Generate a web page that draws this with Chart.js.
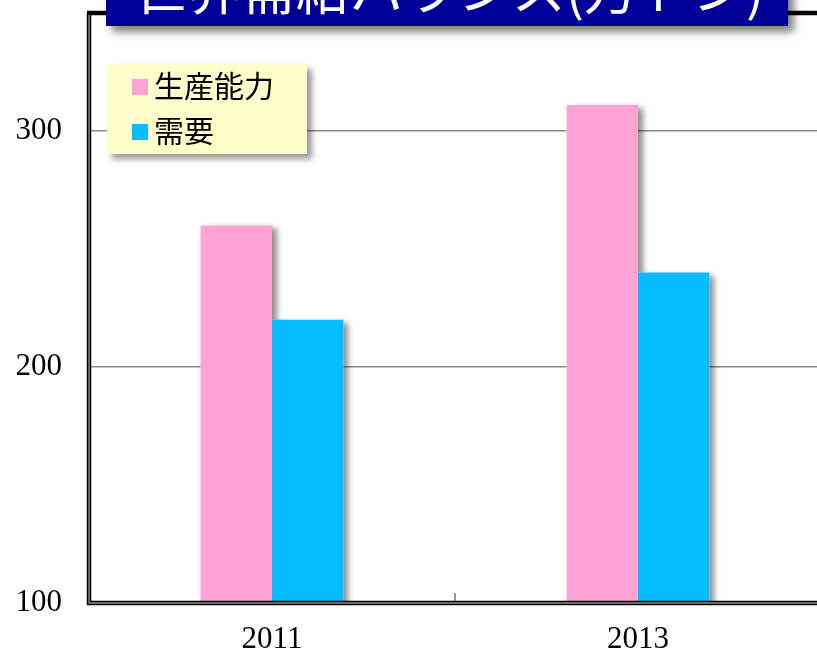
<!DOCTYPE html>
<html>
<head>
<meta charset="utf-8">
<script src="https://cdn.jsdelivr.net/npm/chart.js@4"></script>
<style>
html, body { margin: 0; padding: 0; width: 817px; height: 654px; overflow: hidden; background: #fff; }
#wrap { position: absolute; left: 0; top: 0; width: 830px; height: 654px; }
</style>
</head>
<body>
<div id="wrap"><canvas id="c" width="830" height="654"></canvas></div>
<script>
const titleText = '世界需給バランス(万トン)';
const categories = ['2011', '2013'];
const seriesNames = ['生産能力', '需要'];
const capacity = [260, 311];
const demand = [220, 240];
const yTicks = [100, 200, 300];
const yMin = 100;
const yMax = 350;

const pink = '#FFA3D7';
const blue = '#05BDFE';

// soft drop shadows drawn beneath all bars
const barShadow = {
  id: 'barShadow',
  beforeDatasetsDraw(chart) {
    const ctx = chart.ctx;
    const a = chart.chartArea;
    ctx.save();
    ctx.beginPath();
    ctx.rect(a.left, a.top, a.right - a.left, a.bottom - a.top);
    ctx.clip();
    ctx.shadowColor = 'rgba(0,0,0,0.45)';
    ctx.shadowOffsetX = 5;
    ctx.shadowOffsetY = 3;
    ctx.shadowBlur = 6;
    ctx.fillStyle = '#fff';
    chart.data.datasets.forEach((ds, i) => {
      chart.getDatasetMeta(i).data.forEach(el => {
        const p = el.getProps(['x', 'y', 'base', 'width'], true);
        const bottom = Math.min(p.base, a.bottom);
        ctx.fillRect(p.x - p.width / 2, p.y, p.width, bottom - p.y);
      });
    });
    ctx.restore();
  }
};

const decor = {
  id: 'decor',
  afterDraw(chart) {
    const ctx = chart.ctx;
    const a = chart.chartArea;
    const xs = chart.scales.x;
    ctx.save();
    ctx.strokeStyle = '#999';
    ctx.lineWidth = 2;
    for (let i = 0; i < categories.length - 1; i++) {
      const mx = (xs.getPixelForValue(i) + xs.getPixelForValue(i + 1)) / 2;
      ctx.beginPath();
      ctx.moveTo(mx, a.bottom - 10);
      ctx.lineTo(mx, a.bottom);
      ctx.stroke();
    }
    ctx.strokeStyle = '#000';
    ctx.lineWidth = 4.5;
    ctx.beginPath();
    ctx.moveTo(a.left - 2, a.top);
    ctx.lineTo(chart.width, a.top);
    ctx.stroke();
    ctx.beginPath();
    ctx.moveTo(a.left, a.top);
    ctx.lineTo(a.left, a.bottom);
    ctx.lineTo(chart.width, a.bottom);
    ctx.stroke();
    ctx.strokeStyle = '#8a8a8a';
    ctx.lineWidth = 1.4;
    ctx.beginPath();
    ctx.moveTo(a.left, a.top + 2);
    ctx.lineTo(a.left, a.bottom);
    ctx.lineTo(chart.width, a.bottom);
    ctx.stroke();

    ctx.save();
    ctx.shadowColor = 'rgba(0,0,0,0.5)';
    ctx.shadowOffsetX = 6;
    ctx.shadowOffsetY = 6;
    ctx.shadowBlur = 8;
    ctx.fillStyle = '#000099';
    ctx.fillRect(106, -50, 682, 76);
    ctx.restore();
    ctx.fillStyle = '#fff';
    ctx.font = "54px 'Noto Sans CJK JP'";
    ctx.textAlign = 'center';
    ctx.textBaseline = 'alphabetic';
    ctx.fillText(titleText, 449, 10);

    ctx.save();
    ctx.shadowColor = 'rgba(0,0,0,0.4)';
    ctx.shadowOffsetX = 5;
    ctx.shadowOffsetY = 5;
    ctx.shadowBlur = 6;
    ctx.fillStyle = '#FFFFCC';
    ctx.fillRect(107, 64, 200, 90);
    ctx.restore();
    const rows = [97, 142];
    chart.data.datasets.forEach((ds, i) => {
      ctx.fillStyle = ds.backgroundColor;
      ctx.fillRect(132, rows[i] - 18, 16, 16);
      ctx.fillStyle = '#000';
      ctx.font = "30px 'Noto Sans CJK JP'";
      ctx.textAlign = 'left';
      ctx.fillText(ds.label, 154, rows[i]);
    });
    ctx.restore();
  }
};

new Chart(document.getElementById('c'), {
  type: 'bar',
  data: {
    labels: categories,
    datasets: [
      { label: seriesNames[0], data: capacity, backgroundColor: pink, borderWidth: 0 },
      { label: seriesNames[1], data: demand, backgroundColor: blue, borderWidth: 0 }
    ]
  },
  options: {
    responsive: false,
    animation: false,
    devicePixelRatio: 1,
    layout: { padding: { top: 13, right: 9, left: 0, bottom: 0 } },
    plugins: {
      legend: { display: false },
      title: { display: false },
      tooltip: { enabled: false }
    },
    datasets: {
      bar: { categoryPercentage: 0.39, barPercentage: 1.0 }
    },
    scales: {
      x: {
        grid: { display: false, drawTicks: false },
        border: { display: false },
        ticks: {
          color: '#000',
          font: { family: "'Liberation Serif', 'Times New Roman', serif", size: 31 },
          padding: 18
        },
        afterFit(s) { s.height = 51; s.paddingLeft = 0; s.paddingRight = 0; }
      },
      y: {
        min: yMin,
        max: yMax,
        afterBuildTicks(s) { s.ticks = yTicks.map(v => ({ value: v })); },
        grid: {
          drawTicks: false,
          color: '#8a8a8a',
          lineWidth: 1.5
        },
        border: { display: false },
        ticks: {
          color: '#000',
          font: { family: "'Liberation Serif', 'Times New Roman', serif", size: 31 },
          padding: 27
        },
        afterFit(s) { s.width = 89; s.paddingTop = 0; s.paddingBottom = 0; }
      }
    }
  },
  plugins: [barShadow, decor]
});
</script>
</body>
</html>
